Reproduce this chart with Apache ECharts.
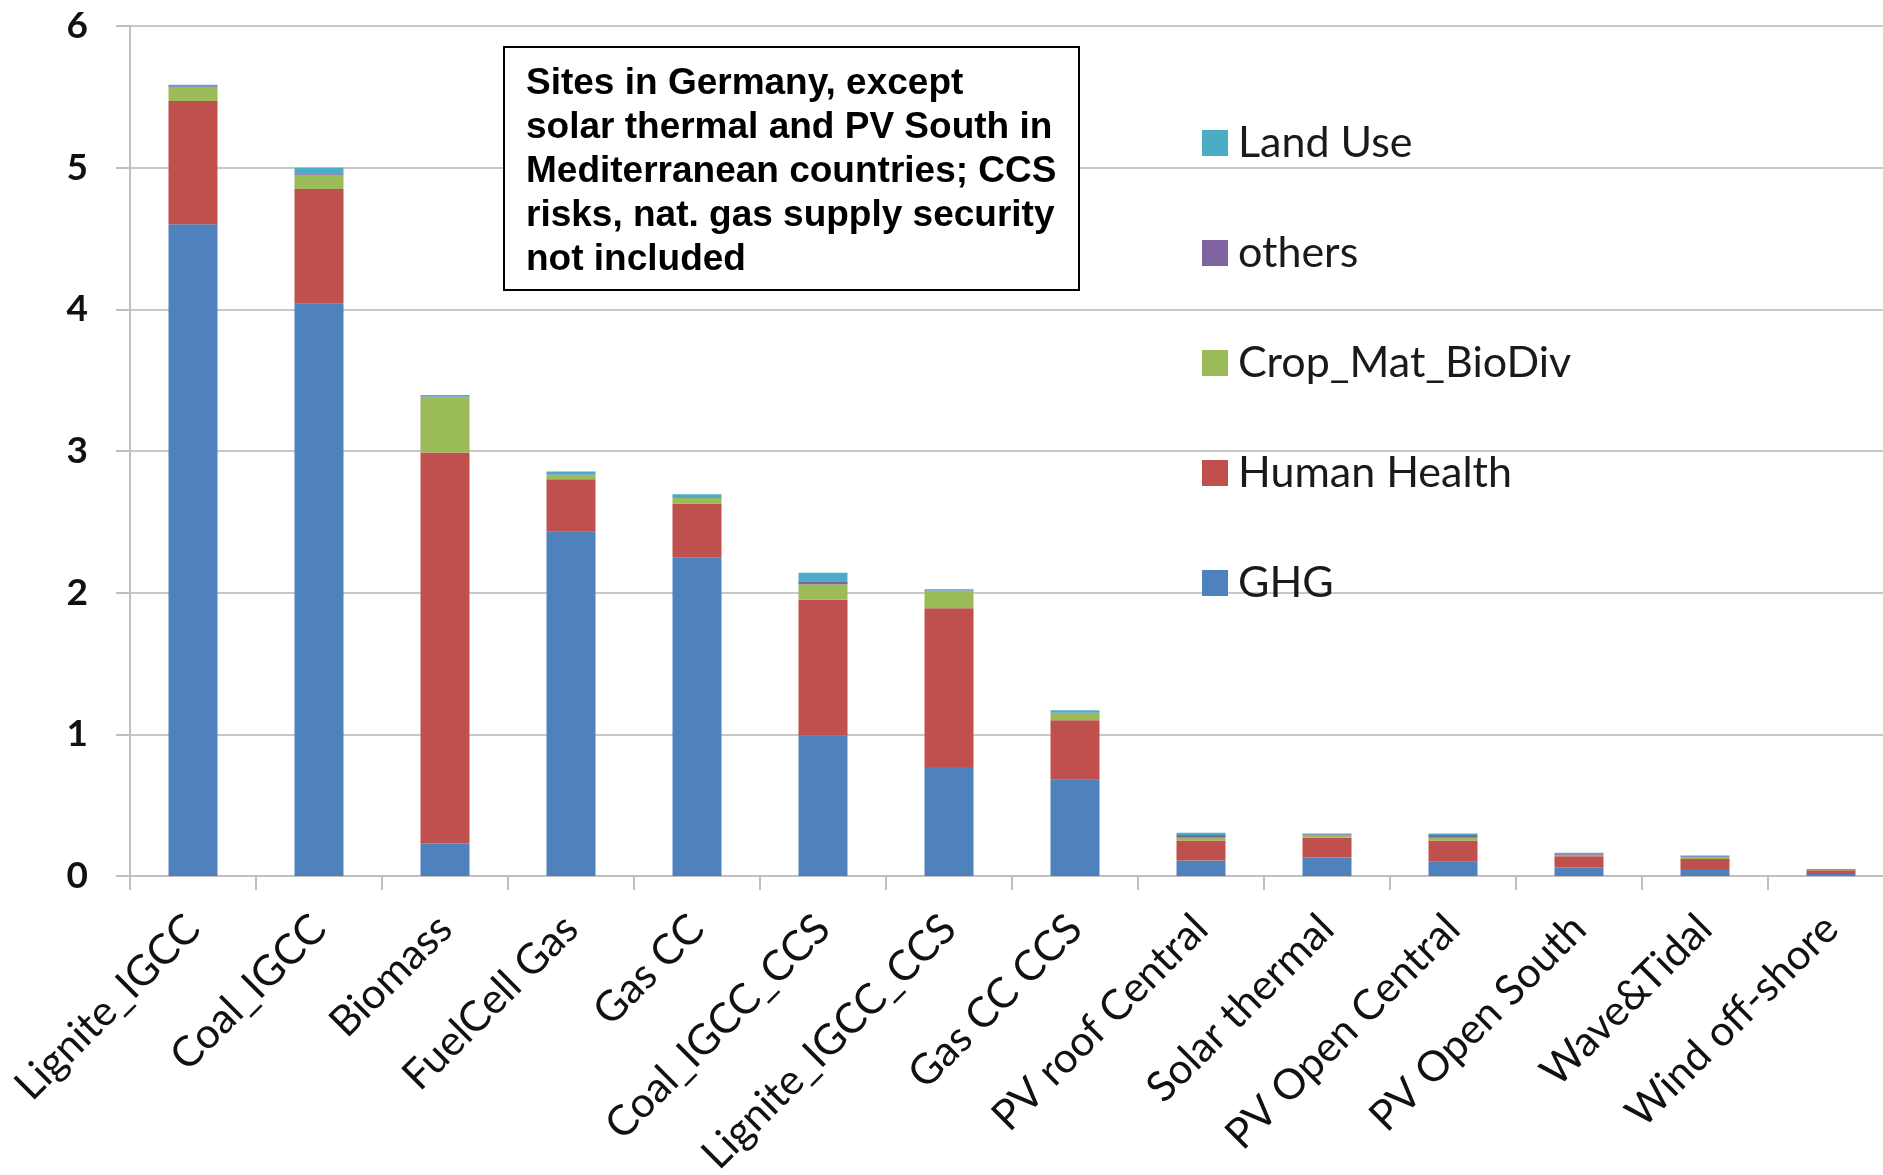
<!DOCTYPE html>
<html>
<head>
<meta charset="utf-8">
<script src="https://cdn.jsdelivr.net/npm/echarts@6/dist/echarts.min.js"></script>
<style>
  html, body { margin: 0; padding: 0; background: #ffffff; }
  #chart { width: 1883px; height: 1175px; }
</style>
</head>
<body>
<div id="chart"></div>
<script>
// Technologies on the x axis
const categories = [
  'Lignite_IGCC', 'Coal_IGCC', 'Biomass', 'FuelCell Gas', 'Gas CC',
  'Coal_IGCC_CCS', 'Lignite_IGCC_CCS', 'Gas CC CCS', 'PV roof Central',
  'Solar thermal', 'PV Open Central', 'PV Open South', 'Wave&Tidal', 'Wind off-shore'
];

// Stacked components, bottom to top
const ghg         = [4.60, 4.04, 0.23, 2.43, 2.25, 0.99, 0.77, 0.68, 0.11, 0.13, 0.10, 0.06, 0.05, 0.015];
const humanHealth = [0.87, 0.81, 2.76, 0.37, 0.38, 0.96, 1.12, 0.42, 0.14, 0.14, 0.15, 0.08, 0.07, 0.025];
const cropMatBio  = [0.10, 0.10, 0.39, 0.03, 0.04, 0.11, 0.12, 0.05, 0.02, 0.02, 0.02, 0.01, 0.015, 0.003];
const others      = [0.005, 0.01, 0.005, 0.005, 0.005, 0.02, 0.005, 0.005, 0.02, 0.005, 0.02, 0.01, 0.005, 0.005];
const landUse     = [0.01, 0.04, 0.01, 0.02, 0.02, 0.06, 0.01, 0.015, 0.015, 0.005, 0.01, 0.005, 0.005, 0.002];

const seriesNames = ['GHG', 'Human Health', 'Crop_Mat_BioDiv', 'others', 'Land Use'];
const seriesColors = ['#4F81BD', '#C0504D', '#9BBB59', '#8064A2', '#4BACC6'];
const yTicks = [0, 1, 2, 3, 4, 5, 6];

const noteLines = [
  'Sites in Germany, except',
  'solar thermal and PV South in',
  'Mediterranean countries; CCS',
  'risks, nat. gas supply security',
  'not included'
];

const chart = echarts.init(document.getElementById('chart'), null, { renderer: 'canvas' });

const seriesData = [ghg, humanHealth, cropMatBio, others, landUse];
const series = seriesNames.map((name, i) => ({
  name: name,
  type: 'bar',
  stack: 'total',
  barWidth: 49,
  itemStyle: { color: seriesColors[i] },
  emphasis: { disabled: true },
  data: seriesData[i]
}));

const labelFont = 'Lato, "Open Sans", sans-serif';

chart.setOption({
  animation: false,
  backgroundColor: '#ffffff',
  grid: {
    left: 130, top: 26, width: 1764, height: 850,
    containLabel: false,
    outerBoundsMode: 'none'
  },
  legend: {
    orient: 'vertical',
    left: 1197,
    top: 116,
    itemWidth: 26,
    itemHeight: 26,
    itemGap: 66,
    icon: 'rect',
    selectedMode: false,
    data: ['Land Use', 'others', 'Crop_Mat_BioDiv', 'Human Health', 'GHG'],
    textStyle: {
      fontFamily: labelFont,
      fontSize: 43,
      lineHeight: 44,
      color: '#1a1a1a',
      padding: [0, 0, 0, 5]
    }
  },
  xAxis: {
    type: 'category',
    data: categories,
    axisLine: { lineStyle: { color: '#bfbfbf', width: 2 } },
    axisTick: { show: true, length: 14, interval: 0, lineStyle: { color: '#bfbfbf', width: 2 } },
    axisLabel: {
      interval: 0,
      rotate: 45,
      margin: 46,
      fontFamily: labelFont,
      fontSize: 42,
      color: '#111111'
    }
  },
  yAxis: {
    type: 'value',
    min: yTicks[0],
    max: yTicks[yTicks.length - 1],
    interval: 1,
    axisLine: { show: true, lineStyle: { color: '#bfbfbf', width: 2 } },
    axisTick: { show: true, length: 14, lineStyle: { color: '#bfbfbf', width: 2 } },
    splitLine: { lineStyle: { color: '#c8c8c8', width: 2 } },
    axisLabel: {
      margin: 42,
      fontFamily: labelFont,
      fontWeight: 'bold',
      fontSize: 37,
      color: '#111111'
    }
  },
  graphic: [
    {
      type: 'group',
      left: 503,
      top: 46,
      z: 100,
      children: [
        {
          type: 'rect',
          z: 100,
          shape: { x: 0, y: 0, width: 575, height: 243 },
          style: { fill: '#ffffff', stroke: '#000000', lineWidth: 2 }
        },
        {
          type: 'text',
          z: 101,
          x: 22,
          y: 15,
          style: {
            text: noteLines.join('\n'),
            fontFamily: '"Liberation Sans", Arial, sans-serif',
            fontWeight: 'bold',
            fontSize: 37,
            lineHeight: 44,
            fill: '#000000'
          }
        }
      ]
    }
  ],
  series: series
});
</script>
</body>
</html>
